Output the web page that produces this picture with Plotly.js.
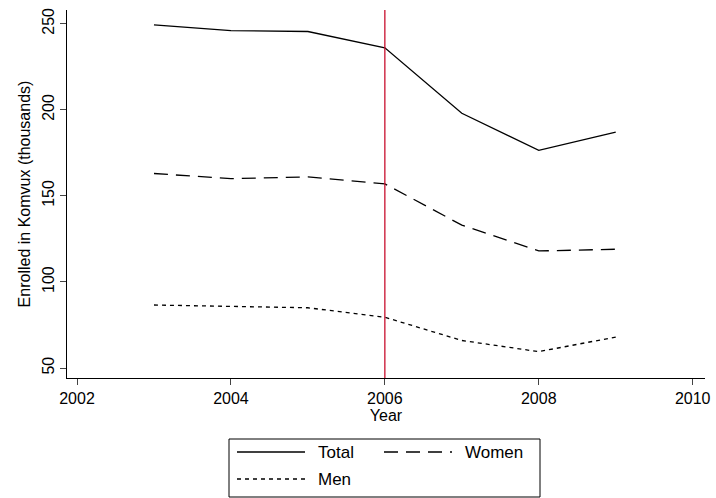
<!DOCTYPE html>
<html><head><meta charset="utf-8">
<script src="https://cdn.plot.ly/plotly-3.0.1.min.js"></script>
<style>body{margin:0}</style></head>
<body><div id="chart" style="width:716px;height:498px"></div>
<script>
var years = [2003, 2004, 2005, 2006, 2007, 2008, 2009];
var total = [249.4, 246, 245.5, 236, 198, 176.5, 187];
var women = [163, 160, 161, 157, 133, 118, 119];
var men = [86.6, 86, 85, 79.5, 66, 59.5, 68];
var reformYear = 2006;
var names = ['Total', 'Women', 'Men'];
var dashes = ['solid', '14px,8px', '4px,4px'];

var L = 67, R = 705, T = 10, B = 378;
function px(x) { return (x - L) / (R - L); }
function py(y) { return (B - y) / (B - T); }

var data = [total, women, men].map(function (y, i) {
  return {x: years, y: y, name: names[i], type: 'scatter', mode: 'lines',
    line: {color: 'black', width: 1.3, dash: dashes[i]}};
});

var shapes = [{type: 'line', xref: 'x', yref: 'paper', x0: reformYear, x1: reformYear,
  y0: 0, y1: 1, line: {color: '#c8102e', width: 1.3}},
  {type: 'rect', xref: 'paper', yref: 'paper', x0: px(229), x1: px(540), y0: py(439), y1: py(497),
   line: {color: 'black', width: 1}}];
var annotations = [];
var pos = [[237, 452], [384, 452], [237, 479]];
pos.forEach(function (p, i) {
  shapes.push({type: 'line', xref: 'paper', yref: 'paper', x0: px(p[0]), x1: px(p[0] + 68),
    y0: py(p[1]), y1: py(p[1]), line: {color: 'black', width: 1.3, dash: dashes[i]}});
  annotations.push({xref: 'paper', yref: 'paper', x: px(p[0] + 79), y: py(p[1]),
    xanchor: 'left', yanchor: 'middle', text: names[i], showarrow: false, font: {size: 17}});
});

var layout = {
  width: 716, height: 498,
  margin: {l: L, r: 716 - R, t: T, b: 498 - B},
  paper_bgcolor: 'white', plot_bgcolor: 'white',
  font: {family: 'Liberation Sans, Arial, sans-serif', size: 16, color: 'black'},
  showlegend: false,
  xaxis: {range: [2001.87, 2010.16], tickvals: [2002, 2004, 2006, 2008, 2010],
    showgrid: false, zeroline: false, showline: true, linecolor: 'black',
    ticks: 'outside', ticklen: 6, ticklabeloverflow: 'allow',
    title: {text: 'Year', standoff: 0, font: {size: 16}}},
  yaxis: {range: [44.2, 258], tickvals: [50, 100, 150, 200, 250], tickangle: -90,
    showgrid: false, zeroline: false, showline: true, linecolor: 'black',
    ticks: 'outside', ticklen: 6,
    title: {text: 'Enrolled in Komvux (thousands)', standoff: 4, font: {size: 16}}},
  shapes: shapes,
  annotations: annotations
};
Plotly.newPlot('chart', data, layout, {displayModeBar: false});
</script></body></html>
